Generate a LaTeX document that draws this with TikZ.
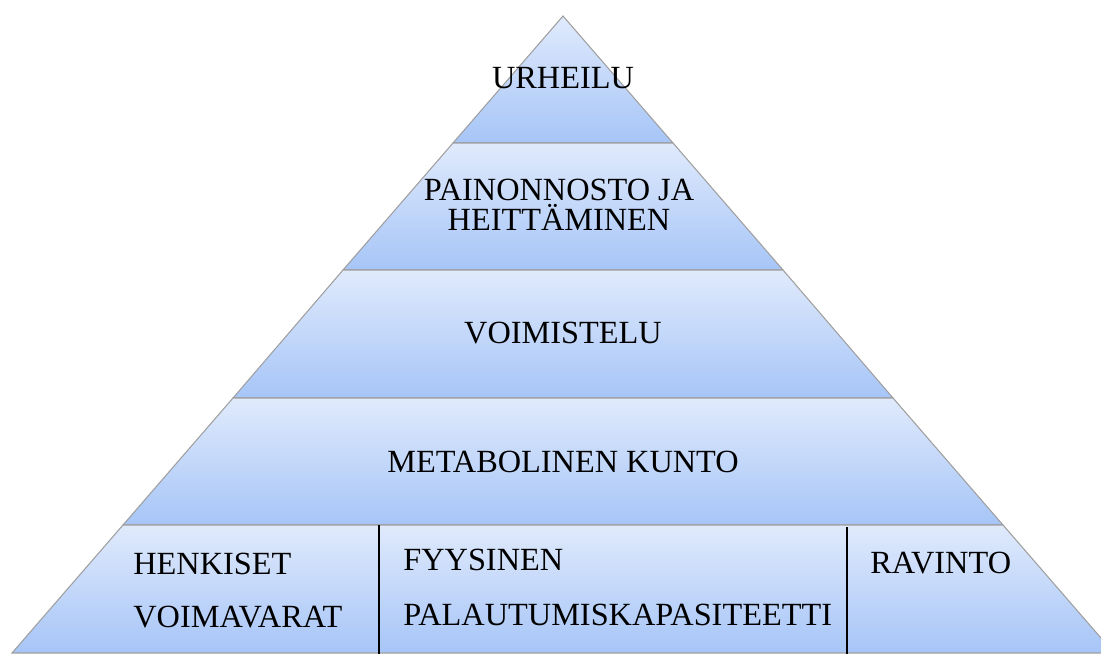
\documentclass[tikz,border=0pt]{standalone}
\usepackage{fontspec}
\setmainfont{Liberation Serif}
\definecolor{layertop}{RGB}{224,234,252}
\definecolor{layerbottom}{RGB}{166,197,247}
\tikzset{
  layer/.style={draw=gray!75, line width=0.6pt, top color=layertop, bottom color=layerbottom},
  label/.style={font=\fontsize{18.4}{21}\selectfont, inner sep=0pt},
  cell/.style={label, anchor=base west}
}
\begin{document}
\begin{tikzpicture}[x=0.02cm,y=-0.02cm]
                        \useasboundingbox (0,0) rectangle (1101,653);
                        \clip (0,0) rectangle (1101,653);
                        \draw[layer] (563,16) -- (673,143) -- (453,143) -- cycle;
                        \draw[layer] (453,143) -- (673,143) -- (783,270) -- (343,270) -- cycle;
                        \draw[layer] (343,270) -- (783,270) -- (893,398) -- (233,398) -- cycle;
                        \draw[layer] (233,398) -- (893,398) -- (1003,525) -- (123,525) -- cycle;
                        \draw[layer] (123,525) -- (1003,525) -- (1114,653) -- (12,653) -- cycle;
                        \draw[black, line width=1.2pt] (379,525) -- (379,655);
                        \draw[black, line width=1.2pt] (847,527) -- (847,655);
                        \node[label, anchor=base] (urheilu) at (563,88) {URHEILU};
                        \node[label, anchor=base] (painonnosto) at (559,200) {PAINONNOSTO JA};
                        \node[label, anchor=base] (heittaminen) at (559,230) {HEITTÄMINEN};
                        \node[label, anchor=base] (voimistelu) at (563,343) {VOIMISTELU};
                        \node[label, anchor=base] (metabolinen) at (563,472) {METABOLINEN KUNTO};
                        \node[cell] (henkiset) at (133,574) {HENKISET};
                        \node[cell] (voimavarat) at (133,627) {VOIMAVARAT};
                        \node[cell] (fyysinen) at (403,570) {FYYSINEN};
                        \node[cell] (palautuminen) at (403,625) {PALAUTUMISKAPASITEETTI};
                        \node[cell] (ravinto) at (870,573) {RAVINTO};
                    \end{tikzpicture}
\end{document}
